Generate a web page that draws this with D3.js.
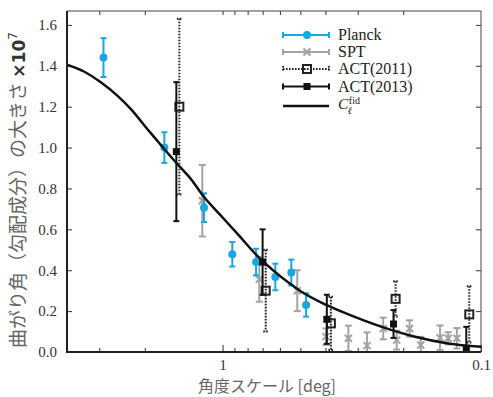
<!DOCTYPE html>
<html lang="ja">
<head>
    <meta charset="UTF-8">
    <title>曲がり角の大きさ</title>
    <script src="https://d3js.org/d3.v7.min.js"></script>
    <style>
        body { margin: 0; background: #fff; }
        svg { display: block; background: #fff; }

        .tick text {
            font-family: "Liberation Serif", "Times New Roman", "DejaVu Serif", serif;
            font-size: 15px;
            fill: #333;
        }
        .tick line { stroke: #333; stroke-width: 1px; }
        .domain { display: none; }

        .legend-text {
            font-family: "Liberation Serif", "Times New Roman", "DejaVu Serif", serif;
            font-size: 16px;
            fill: #222;
        }
        .axis-title {
            font-family: "Noto Sans CJK JP", "Noto Sans", sans-serif;
            fill: #666;
        }
        .curve { fill: none; stroke: #111; stroke-width: 2.5px; }
    </style>
</head>
<body>
<svg id="chart" width="493" height="397"></svg>
<script>
    // --- data (angular scale in deg, value x 1e-7) ---
    const planckDeg = [2.89, 1.68, 1.18, 0.917, 0.742, 0.625, 0.542, 0.475];
    const planckVal = [1.44, 1.00, 0.706, 0.478, 0.44, 0.367, 0.389, 0.23];
    const planckErr = [0.095, 0.075, 0.07, 0.06, 0.065, 0.065, 0.063, 0.057];

    const sptDeg = [1.198, 0.721, 0.514, 0.398, 0.326, 0.276, 0.239, 0.212, 0.189, 0.171, 0.144, 0.134, 0.124];
    const sptVal = [0.74, 0.356, 0.30, 0.075, 0.067, 0.031, 0.115, 0.058, 0.115, 0.034, 0.07, 0.067, 0.067];
    const sptErr = [0.175, 0.11, 0.10, 0.04, 0.062, 0.065, 0.053, 0.046, 0.04, 0.04, 0.06, 0.03, 0.05];

    const act11Deg = [1.47, 0.681, 0.381, 0.214, 0.111];
    const act11Val = [1.20, 0.30, 0.14, 0.26, 0.184];
    const act11Err = [0.43, 0.20, 0.13, 0.086, 0.138];

    const act13Deg = [1.51, 0.70, 0.395, 0.218, 0.114];
    const act13Val = [0.98, 0.44, 0.16, 0.137, 0.018];
    const act13Err = [0.34, 0.16, 0.12, 0.068, 0.105];

    // fiducial C_l curve
    const fidDeg = [4.0, 3.44, 2.96, 2.555, 2.268, 1.956, 1.685, 1.518, 1.328, 1.18, 1.017, 0.877,
                    0.706, 0.502, 0.395, 0.326, 0.242, 0.180, 0.134, 0.1];
    const fidVal = [1.405, 1.372, 1.319, 1.254, 1.189, 1.091, 0.994, 0.928, 0.847, 0.758, 0.668, 0.579,
                    0.449, 0.30, 0.229, 0.184, 0.123, 0.075, 0.042, 0.026];

    const yTicks = [0, 0.2, 0.4, 0.6, 0.8, 1.0, 1.2, 1.4, 1.6];
    const xMajorTicks = [1, 0.1];
    const xMinorTicks = [3, 2, 0.9, 0.8, 0.7, 0.6, 0.5, 0.4, 0.3, 0.2];

    const legendNames = ["Planck", "SPT", "ACT(2011)", "ACT(2013)"];

    const zip = (d, v, e) => d.map((deg, i) => ({ deg: deg, val: v[i], err: e ? e[i] : 0 }));
    const planck = zip(planckDeg, planckVal, planckErr);
    const spt = zip(sptDeg, sptVal, sptErr);
    const act11 = zip(act11Deg, act11Val, act11Err);
    const act13 = zip(act13Deg, act13Val, act13Err);
    const fid = zip(fidDeg, fidVal);

    const serif = "'Liberation Serif', 'Times New Roman', 'DejaVu Serif', serif";

    const svg = d3.select("#chart");
    const pLeft = 67, pRight = 481, pTop = 11, pBottom = 352;

    const x = d3.scaleLog().domain([4, 0.1]).range([pLeft, pRight]);
    const y = d3.scaleLinear().domain([0, 1.668]).range([pBottom, pTop]);

    svg.append("clipPath").attr("id", "plot-clip")
        .append("rect")
        .attr("x", pLeft).attr("y", pTop)
        .attr("width", pRight - pLeft).attr("height", pBottom - pTop);

    // Axes (ticks pointing inward)
    svg.append("g")
        .attr("transform", `translate(${pLeft},0)`)
        .call(d3.axisLeft(y).tickValues(yTicks).tickSizeInner(-5).tickSizeOuter(0)
            .tickPadding(10).tickFormat(d3.format(".1f")))
        .attr("font-family", serif).attr("font-size", 15);

    svg.append("g")
        .attr("transform", `translate(${pRight},0)`)
        .call(d3.axisRight(y).tickValues(yTicks).tickSizeInner(-5).tickSizeOuter(0).tickFormat(""));

    svg.append("g")
        .attr("transform", `translate(0,${pBottom})`)
        .call(d3.axisBottom(x).tickValues(xMinorTicks).tickSizeInner(-4).tickSizeOuter(0).tickFormat(""));

    svg.append("g")
        .attr("transform", `translate(0,${pBottom})`)
        .call(d3.axisBottom(x).tickValues(xMajorTicks).tickSizeInner(-7).tickSizeOuter(0)
            .tickPadding(7.5).tickFormat(d => d === 1 ? "1" : "0.1"))
        .attr("font-family", serif).attr("font-size", 15);

    svg.append("g")
        .attr("transform", `translate(0,${pTop})`)
        .call(d3.axisTop(x).tickValues(xMinorTicks.concat([1])).tickSizeInner(-4).tickSizeOuter(0).tickFormat(""));

    // frame
    svg.append("line").attr("x1", pLeft).attr("x2", pRight).attr("y1", pTop).attr("y2", pTop)
        .attr("stroke", "#444").attr("stroke-width", 1);
    svg.append("line").attr("x1", pRight).attr("x2", pRight).attr("y1", pTop).attr("y2", pBottom)
        .attr("stroke", "#444").attr("stroke-width", 1);

    const plot = svg.append("g");

    // error bars
    function errorBars(data, color, dash, cap) {
        const g = plot.append("g").attr("clip-path", "url(#plot-clip)")
            .attr("stroke", color).attr("stroke-width", 2).attr("fill", "none");
        if (dash) g.attr("stroke-dasharray", dash);
        g.selectAll(".bar").data(data).enter().append("line")
            .attr("x1", d => x(d.deg)).attr("x2", d => x(d.deg))
            .attr("y1", d => y(d.val + d.err)).attr("y2", d => y(d.val - d.err));
        g.selectAll(".capTop").data(data).enter().append("line")
            .attr("x1", d => x(d.deg) - cap).attr("x2", d => x(d.deg) + cap)
            .attr("y1", d => y(d.val + d.err)).attr("y2", d => y(d.val + d.err));
        g.selectAll(".capBot").data(data).enter().append("line")
            .attr("x1", d => x(d.deg) - cap).attr("x2", d => x(d.deg) + cap)
            .attr("y1", d => y(d.val - d.err)).attr("y2", d => y(d.val - d.err));
    }

    const planckColor = "#1aa6de";
    const sptColor = "#a3a3a3";

    errorBars(spt, sptColor, null, 3.5);
    plot.append("g").selectAll("path").data(spt).enter().append("path")
        .attr("d", d => {
            const cx = x(d.deg), cy = y(d.val), s = 3.5;
            return `M${cx - s},${cy - s}L${cx + s},${cy + s}M${cx - s},${cy + s}L${cx + s},${cy - s}`;
        })
        .attr("stroke", sptColor).attr("stroke-width", 2);

    errorBars(planck, planckColor, null, 3);
    plot.append("g").selectAll("circle").data(planck).enter().append("circle")
        .attr("cx", d => x(d.deg)).attr("cy", d => y(d.val)).attr("r", 4)
        .attr("fill", planckColor);

    errorBars(act11, "#222", "1.6,1.4", 2.5);
    plot.append("g").selectAll("rect").data(act11).enter().append("rect")
        .attr("x", d => x(d.deg) - 4).attr("y", d => y(d.val) - 4)
        .attr("width", 8).attr("height", 8)
        .attr("fill", "none").attr("stroke", "#222").attr("stroke-width", 2);

    errorBars(act13, "#111", null, 3);
    plot.append("g").selectAll("rect").data(act13).enter().append("rect")
        .attr("x", d => x(d.deg) - 3.5).attr("y", d => y(d.val) - 3.5)
        .attr("width", 7).attr("height", 7)
        .attr("fill", "#111");

    // fiducial curve
    plot.append("path")
        .datum(fid)
        .attr("class", "curve")
        .attr("d", d3.line().x(d => x(d.deg)).y(d => y(d.val)).curve(d3.curveCatmullRom.alpha(0.5)));

    // left/bottom frame (thicker)
    svg.append("line").attr("x1", pLeft).attr("x2", pLeft).attr("y1", pTop).attr("y2", pBottom + 1)
        .attr("stroke", "#222").attr("stroke-width", 2);
    svg.append("line").attr("x1", pLeft - 1).attr("x2", pRight).attr("y1", pBottom).attr("y2", pBottom)
        .attr("stroke", "#222").attr("stroke-width", 2);

    // Legend
    const legend = svg.append("g").attr("transform", "translate(283,0)");
    const rowY = [35, 52, 69, 86.5, 106];
    const lx1 = 0, lx2 = 46, lm = 24, ltx = 55;
    const legendStyles = [
        { color: planckColor, dash: null },
        { color: sptColor, dash: null },
        { color: "#222", dash: "1.6,1.4" },
        { color: "#111", dash: null }
    ];
    legendNames.forEach((name, i) => {
        const ly = rowY[i], st = legendStyles[i];
        const row = legend.append("g");
        const ln = row.append("g").attr("stroke", st.color).attr("stroke-width", 2);
        if (st.dash) ln.attr("stroke-dasharray", st.dash);
        ln.append("line").attr("x1", lx1).attr("x2", lx2).attr("y1", ly).attr("y2", ly);
        ln.append("line").attr("x1", lx1).attr("x2", lx1).attr("y1", ly - 3).attr("y2", ly + 3);
        ln.append("line").attr("x1", lx2).attr("x2", lx2).attr("y1", ly - 3).attr("y2", ly + 3);
        if (i === 0) {
            row.append("circle").attr("cx", lm).attr("cy", ly).attr("r", 4).attr("fill", planckColor);
        } else if (i === 1) {
            row.append("path")
                .attr("d", `M${lm - 3.5},${ly - 3.5}L${lm + 3.5},${ly + 3.5}M${lm - 3.5},${ly + 3.5}L${lm + 3.5},${ly - 3.5}`)
                .attr("stroke", sptColor).attr("stroke-width", 2);
        } else if (i === 2) {
            row.append("rect").attr("x", lm - 4).attr("y", ly - 4).attr("width", 8).attr("height", 8)
                .attr("fill", "none").attr("stroke", "#222").attr("stroke-width", 2);
        } else {
            row.append("rect").attr("x", lm - 3.5).attr("y", ly - 3.5).attr("width", 7).attr("height", 7)
                .attr("fill", "#111");
        }
        row.append("text").attr("class", "legend-text")
            .attr("font-family", serif)
            .attr("x", ltx).attr("y", ly + 5).text(name);
    });

    // C_l^fid entry
    const fy = rowY[4];
    legend.append("line").attr("x1", lx1).attr("x2", lx2).attr("y1", fy).attr("y2", fy)
        .attr("stroke", "#111").attr("stroke-width", 2.5);
    const cText = legend.append("text").attr("class", "legend-text")
        .attr("x", ltx).attr("y", fy + 2.5).style("font-size", "15.5px").style("font-style", "italic").text("C");
    const cw = cText.node().getComputedTextLength();
    legend.append("text").attr("class", "legend-text")
        .attr("x", ltx + cw + 0.5).attr("y", fy - 2).style("font-size", "10px").text("fid");
    legend.append("text").attr("class", "legend-text")
        .attr("x", ltx + cw - 0.5).attr("y", fy + 8).style("font-size", "10px").style("font-style", "italic").text("ℓ");

    // Axis titles
    svg.append("text").attr("class", "axis-title")
        .attr("x", 267).attr("y", 392)
        .attr("text-anchor", "middle")
        .style("font-size", "16px")
        .text("角度スケール [deg]");

    const yTitle = svg.append("text").attr("class", "axis-title")
        .attr("transform", "translate(25,190) rotate(-90)")
        .attr("text-anchor", "middle")
        .style("font-size", "19px");
    yTitle.append("tspan").text("曲がり角（勾配成分）の大きさ ");
    yTitle.append("tspan").style("font-weight", "bold").style("fill", "#333")
        .style("font-family", "'DejaVu Sans', sans-serif").style("font-size", "17px").text("×10");
    yTitle.append("tspan").attr("dy", -8).style("fill", "#333")
        .style("font-family", "'DejaVu Sans', sans-serif").style("font-size", "12px").text("7");
</script>
</body>
</html>
